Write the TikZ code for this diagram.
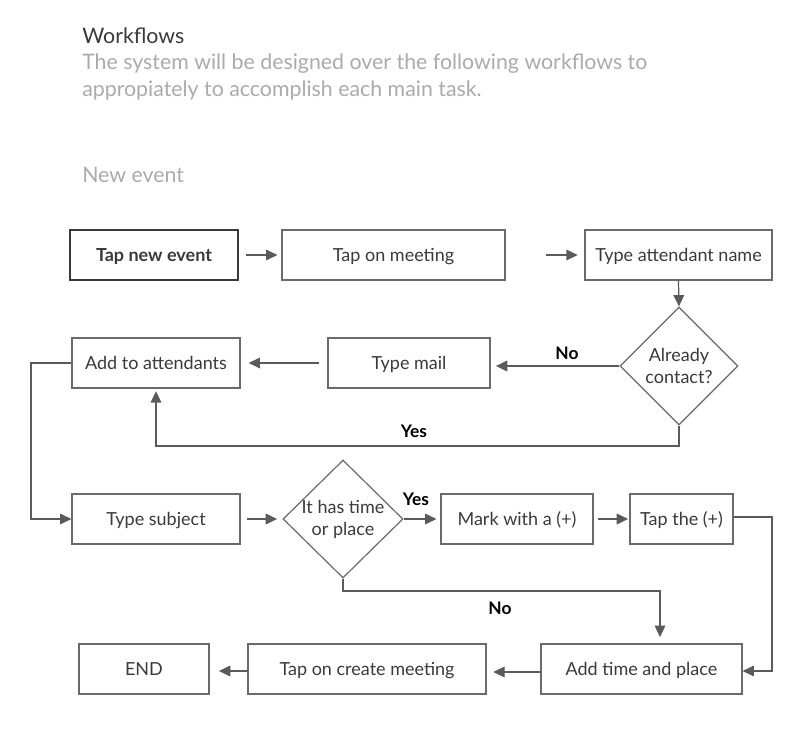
\documentclass[tikz,border=0pt]{standalone}
\usepackage{fontspec}
\setmainfont{Lato}
\usetikzlibrary{shapes.geometric,arrows.meta}
\definecolor{linec}{HTML}{5A5A5A}
\definecolor{boxc}{HTML}{6A6A6A}
\definecolor{txt}{HTML}{3A3A3A}
\definecolor{light}{HTML}{ABABAB}
\tikzset{
  box/.style={draw=boxc, line width=0.9pt, rectangle, inner sep=0pt, minimum height=37.5pt, text height=10pt, text depth=0pt, text=txt, font=\fontsize{13.5}{16}\selectfont},
  dia/.style={draw=boxc, line width=0.9pt, diamond, inner sep=0pt, aspect=1},
  dtext/.style={text=txt, font=\fontsize{13.5}{16.5}\selectfont, align=center, inner sep=0pt},
  conn/.style={draw=linec, line width=0.9pt, -{Triangle[length=8.5pt,width=8pt]}},
  lbl/.style={text=black, font=\bfseries\fontsize{13}{15}\selectfont, inner sep=0pt},
  head/.style={anchor=base west, inner sep=0pt, font=\fontsize{16}{19}\selectfont}
}
\begin{document}
\begin{tikzpicture}[x=0.75pt,y=-0.75pt]
\useasboundingbox (0,0) rectangle (800,737);
\fill[white] (0,0) rectangle (800,737);
% headings
\node[head, text=txt] (title) at (82,44) {Workflows};
\node[head, text=light] (sub1) at (82,70) {The system will be designed over the following workflows to};
\node[head, text=light] (sub2) at (82,97) {appropiately to accomplish each main task.};
\node[head, text=light] (sec) at (82,183) {New event};
% row 1
\node[box, draw=txt, line width=2pt, minimum width=126pt, font=\bfseries\fontsize{13.5}{16}\selectfont] (tne) at (154,255) {Tap new event};
\node[box, minimum width=167.25pt] (tom) at (393.5,255) {Tap on meeting};
\node[box, minimum width=140.25pt] (tan) at (678.5,255) {Type attendant name};
% row 2
\node[dia, minimum width=88.5pt, minimum height=88.5pt] (dc) at (679,366) {};
\node[dtext] (dct) at (dc.center) {Already\\contact?};
\node[box, minimum width=121.5pt] (tm) at (409,363) {Type mail};
\node[box, minimum width=126pt] (ata) at (156,363) {Add to attendants};
% row 3
\node[box, minimum width=126pt] (ts) at (156,519) {Type subject};
\node[dia, minimum width=90pt, minimum height=88.5pt] (dtp) at (343,519) {};
\node[dtext] (dtpt) at (dtp.center) {It has time\\or place};
\node[box, minimum width=114pt] (mw) at (517,519) {Mark with a (+)};
\node[box, minimum width=77.25pt] (tt) at (681.5,519) {Tap the (+)};
% row 4
\node[box, minimum width=150.75pt] (atp) at (641.5,669) {Add time and place};
\node[box, minimum width=178.5pt] (tcm) at (367,669) {Tap on create meeting};
\node[box, minimum width=97.5pt] (end) at (144,669) {END};
% connectors
\draw[conn, shorten <=5pt, shorten >=3pt] (tne.east) -- (tom.west);
\draw[conn, shorten <=30pt, shorten >=5pt] (tom.east) -- (tan.west);
\draw[conn] (tan.south) -- (dc.north);
\draw[conn, shorten >=4pt] (dc.west) -- (tm.east |- dc.west);
\draw[conn, shorten <=6pt, shorten >=6pt] (tm.west) -- (ata.east);
\coordinate (y1) at (679,446);
\draw[conn, shorten >=2pt] (dc.south) -- (y1) -| (ata.south);
\coordinate (l1) at (31,363);
\draw[conn] (ata.west) -- (l1) |- (ts.west);
\draw[conn, shorten <=5pt, shorten >=4pt] (ts.east) -- (dtp.west);
\draw[conn, shorten >=3pt] (dtp.east) -- (mw.west);
\draw[conn, shorten <=3pt, shorten >=1pt] (mw.east) -- (tt.west);
\coordinate (r1) at (772,517);
\coordinate (r2) at (772,671);
\draw[conn] (tt.east |- r1) -- (r1) -- (r2) -- (atp.east |- r2);
\coordinate (n1) at (343,591);
\coordinate (n2) at (660,591);
\coordinate (n3) at (660,637);
\draw[conn] (dtp.south) -- (n1) -- (n2) -- (n3);
\coordinate (a1) at (541,672);
\draw[conn, shorten >=5pt] (a1) -- (tcm.east |- a1);
\coordinate (a2) at (248,671);
\draw[conn, shorten >=7pt] (a2) -- (end.east |- a2);
% labels
\node[lbl] (no1) at (567,353) {No};
\node[lbl] (yes1) at (414,431) {Yes};
\node[lbl] (yes2) at (416,499) {Yes};
\node[lbl] (no2) at (500,608) {No};
\end{tikzpicture}
\end{document}
